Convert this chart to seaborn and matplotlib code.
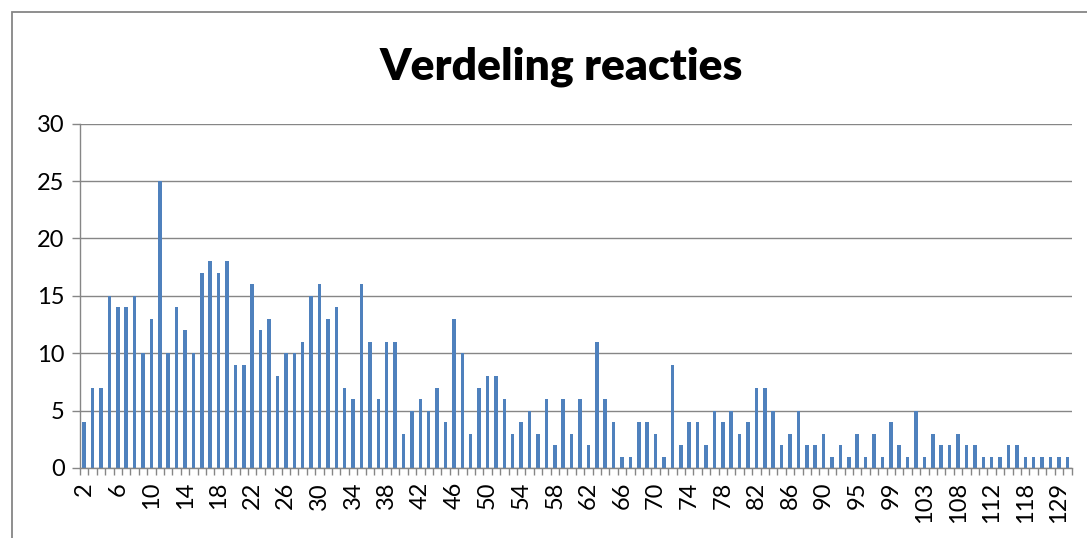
import matplotlib
matplotlib.use("Agg")
import matplotlib.pyplot as plt
from matplotlib.patches import Rectangle
import numpy as np
import pandas as pd
import seaborn as sns

# categories (response counts); only every 4th is labelled in the original
categories = [str(c) for c in range(2, 91)] + [
    "91", "92", "94", "95", "96", "97", "98", "99", "100", "101", "102", "103",
    "104", "105", "106", "108", "109", "110", "111", "112", "113", "114", "116",
    "118", "120", "122", "125", "129", "134",
]
values = [
    4, 7, 7, 15, 14, 14, 15, 10, 13, 25, 10, 14, 12, 10, 17, 18, 17, 18, 9, 9,
    16, 12, 13, 8, 10, 10, 11, 15, 16, 13, 14, 7, 6, 16, 11, 6, 11, 11, 3, 5,
    6, 5, 7, 4, 13, 10, 3, 7, 8, 8, 6, 3, 4, 5, 3, 6, 2, 6, 3, 6,
    2, 11, 6, 4, 1, 1, 4, 4, 3, 1, 9, 2, 4, 4, 2, 5, 4, 5, 3, 4,
    7, 7, 5, 2, 3, 5, 2, 2, 3,
    1, 2, 1, 3, 1, 3, 1, 4, 2, 1, 5, 1, 3, 2, 2, 3, 2, 2, 1, 1,
    1, 2, 2, 1, 1, 1, 1, 1, 1,
]
y_ticks = [0, 5, 10, 15, 20, 25, 30]

df = pd.DataFrame({"aantal": categories, "reacties": values})

sns.set_style("white")
plt.rcParams["font.family"] = ["Lato", "DejaVu Sans"]
plt.rcParams["text.color"] = "black"
plt.rcParams["xtick.labelcolor"] = "black"
plt.rcParams["ytick.labelcolor"] = "black"

fig = plt.figure(figsize=(10.87, 5.38), dpi=100)
ax = fig.add_axes([80 / 1087, 1 - 468 / 538, 991.5 / 1087, (468 - 123.7) / 538])

sns.barplot(data=df, x="aantal", y="reacties", color="#4F81BD", width=0.42,
            saturation=1, linewidth=0, ax=ax)

n = len(categories)
ax.set_xlim(-0.5, n - 0.5)
ax.set_ylim(0, 30)
ax.set_yticks(y_ticks)
ax.set_yticklabels([str(t) for t in y_ticks], fontsize=17)

major = np.arange(0, n, 4)
ax.set_xticks(major)
ax.set_xticklabels([categories[i] for i in major], rotation=90, fontsize=17)
ax.set_xticks(np.arange(-0.5, n, 1), minor=True)
ax.tick_params(axis="x", which="major", length=0, pad=10)
ax.tick_params(axis="x", which="minor", length=5, width=1, color="#868686",
               direction="out", bottom=True)
ax.tick_params(axis="y", length=6, width=1, color="#868686", direction="out",
               left=True, pad=5)

ax.yaxis.grid(True, color="#868686", linewidth=1)
ax.set_axisbelow(True)
for side in ["top", "right"]:
    ax.spines[side].set_visible(False)
for side in ["left", "bottom"]:
    ax.spines[side].set_color("#868686")
    ax.spines[side].set_linewidth(1)
ax.set_xlabel("")
ax.set_ylabel("")

fig.text(0.516, 1 - 67 / 538, "Verdeling reacties", ha="center", va="center",
         fontsize=32, fontweight="heavy", color="black")

# outer chart border (cropped on the right and bottom)
fig.patches.append(Rectangle((12 / 1087, -0.1), 1.2, 1.1 - 12 / 538,
                             transform=fig.transFigure, fill=False,
                             edgecolor="#868686", linewidth=1.3))

fig.savefig("out.png", dpi=100)
